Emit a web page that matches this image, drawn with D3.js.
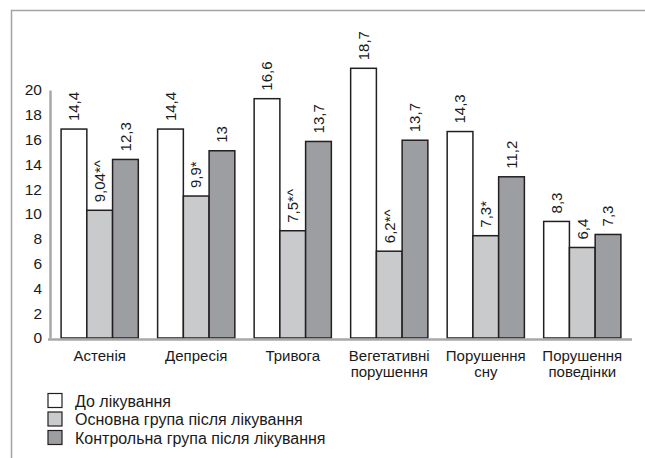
<!DOCTYPE html>
<html>
<head>
<meta charset="utf-8">
<script src="https://cdn.jsdelivr.net/npm/d3@7"></script>
<style>
  body { margin: 0; background: #fff; }
  text { font-family: "Liberation Sans", Arial, sans-serif; fill: #1a1a1a; }
</style>
</head>
<body>
<div id="chart"></div>
<script>
// categories (second line where the label wraps)
var categories = [
  ["Астенія"],
  ["Депресія"],
  ["Тривога"],
  ["Вегетативні", "порушення"],
  ["Порушення", "сну"],
  ["Порушення", "поведінки"]
];
var seriesNames = [
  "До лікування",
  "Основна група після лікування",
  "Контрольна група після лікування"
];
// bar heights
var beforeValues = [16.85, 16.85, 19.3, 21.75, 16.65, 9.4];
var mainValues = [10.3, 11.45, 8.65, 7.0, 8.25, 7.3];
var controlValues = [14.4, 15.1, 15.85, 15.95, 13.0, 8.35];
// printed labels above the bars
var beforeLabels = ["14,4", "14,4", "16,6", "18,7", "14,3", "8,3"];
var mainLabels = ["9,04*^", "9,9*", "7,5*^", "6,2*^", "7,3*", "6,4"];
var controlLabels = ["12,3", "13", "13,7", "13,7", "11,2", "7,3"];
var yTicks = [0, 2, 4, 6, 8, 10, 12, 14, 16, 18, 20];

var colors = ["#ffffff", "#c9cacc", "#9d9ea1"];
var w = 645,
  h = 458;

var svg = d3
  .select("#chart")
  .append("svg")
  .attr("width", w)
  .attr("height", h);

// page frame
svg
  .append("path")
  .attr("d", "M11.5," + h + "V10.5H" + w)
  .attr("fill", "none")
  .attr("stroke", "#a3a3a3")
  .attr("stroke-width", 1.5);

var x0 = d3
  .scaleBand()
  .domain(d3.range(categories.length))
  .range([50, 632])
  .paddingInner(0.2)
  .paddingOuter(0.115);
var x1 = d3
  .scaleBand()
  .domain([0, 1, 2])
  .range([0, x0.bandwidth()]);
var y = d3.scaleLinear().domain([0, 20]).range([338, 90]);

// y axis
var yAxis = svg
  .append("g")
  .attr("transform", "translate(50,0)")
  .call(d3.axisLeft(y).tickValues(yTicks).tickSize(0).tickPadding(8));
yAxis.select(".domain").attr("stroke", "#a8a8a8").attr("stroke-width", 2.5);
yAxis
  .selectAll("text")
  .attr("font-size", 15.5)
  .attr("font-family", "Liberation Sans, Arial, sans-serif")
  .attr("fill", "#1a1a1a");

var rows = categories.map(function (c, i) {
  return {
    i: i,
    values: [beforeValues[i], mainValues[i], controlValues[i]],
    labels: [beforeLabels[i], mainLabels[i], controlLabels[i]]
  };
});

var groups = svg
  .selectAll("g.group")
  .data(rows)
  .enter()
  .append("g")
  .attr("class", "group")
  .attr("transform", function (d) {
    return "translate(" + x0(d.i) + ",0)";
  });

groups.each(function (d) {
  var g = d3.select(this);
  d.values.forEach(function (v, k) {
    g.append("rect")
      .attr("x", x1(k))
      .attr("y", y(v))
      .attr("width", x1.bandwidth())
      .attr("height", y(0) - y(v))
      .attr("fill", colors[k])
      .attr("stroke", "#231f20")
      .attr("stroke-width", 1.5);
    g.append("text")
      .attr(
        "transform",
        "translate(" + (x1(k) + x1.bandwidth() / 2) + "," + (y(v) - 8) + ") rotate(-90)"
      )
      .attr("dy", "0.35em")
      .attr("font-size", 15)
      .text(d.labels[k]);
  });
});

// x axis line
svg
  .append("line")
  .attr("x1", 48)
  .attr("x2", 632)
  .attr("y1", 339.5)
  .attr("y2", 339.5)
  .attr("stroke", "#a8a8a8")
  .attr("stroke-width", 2.5);

// category labels
svg
  .selectAll("text.cat")
  .data(categories)
  .enter()
  .append("text")
  .attr("class", "cat")
  .attr("text-anchor", "middle")
  .attr("font-size", 15)
  .attr("x", function (d, i) {
    return x0(i) + x0.bandwidth() / 2;
  })
  .attr("y", 361)
  .each(function (d) {
    var t = d3.select(this);
    d.forEach(function (line, j) {
      t.append("tspan")
        .attr("x", t.attr("x"))
        .attr("dy", j === 0 ? 0 : 16)
        .text(line);
    });
  });

// legend
var legend = svg
  .selectAll("g.legend")
  .data(seriesNames)
  .enter()
  .append("g")
  .attr("class", "legend")
  .attr("transform", function (d, i) {
    return "translate(48," + (393.5 + i * 18.5) + ")";
  });
legend
  .append("rect")
  .attr("width", 14)
  .attr("height", 14)
  .attr("fill", function (d, i) {
    return colors[i];
  })
  .attr("stroke", "#231f20")
  .attr("stroke-width", 1.2);
legend
  .append("text")
  .attr("x", 27)
  .attr("y", 13)
  .attr("font-size", 16)
  .text(function (d) {
    return d;
  });
</script>
</body>
</html>
